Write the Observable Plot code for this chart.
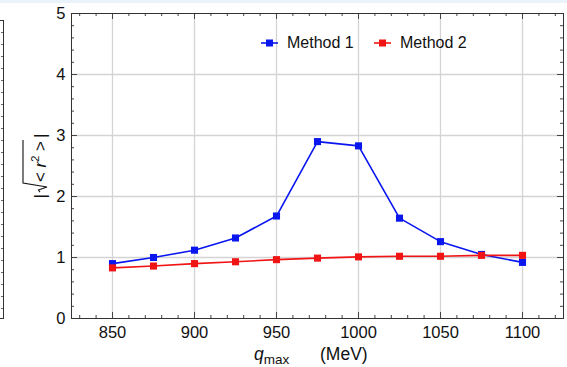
<!DOCTYPE html>
<html>
<head>
<meta charset="utf-8">
<script src="https://cdn.jsdelivr.net/npm/d3@7"></script>
<script src="https://cdn.jsdelivr.net/npm/@observablehq/plot@0.6"></script>
<style>
  html, body { margin: 0; padding: 0; background: #fff; }
  #wrap { position: relative; width: 567px; height: 367px; overflow: hidden; font-family: "Liberation Sans", Arial, sans-serif; }
  #topstrip { position: absolute; left: 0; top: 0; width: 567px; height: 3px; background: #eaf3fa; }
  #frag { position: absolute; left: -10px; top: 20px; width: 12px; height: 297px; border: 1px solid #333; }
  #fragticks { position: absolute; right: 0; top: 0; width: 2px; height: 297px;
     background: repeating-linear-gradient(to bottom, transparent 0 11px, #666 11px 12px); }
  #legend { position: absolute; top: 33px; left: 0; font-size: 16px; color: #111; }
  .item { position: absolute; top: 0; white-space: nowrap; display: flex; align-items: center; height: 20px; }
  .item svg { margin-right: 9px; }
</style>
</head>
<body>
<div id="wrap">
  <div id="topstrip"></div>
  <div id="frag"><div id="fragticks"></div></div>
</div>
<script>
// ---- data ----
const qmax = [850, 875, 900, 925, 950, 975, 1000, 1025, 1050, 1075, 1100];
const method1 = [0.90, 1.00, 1.12, 1.32, 1.68, 2.90, 2.83, 1.645, 1.26, 1.05, 0.92];
const method2 = [0.83, 0.86, 0.90, 0.93, 0.965, 0.99, 1.01, 1.02, 1.02, 1.035, 1.035];
const seriesNames = ["Method 1", "Method 2"];
const seriesColors = ["#0a16ee", "#f01414"];
const xTicks = [850, 900, 950, 1000, 1050, 1100];
const yTicks = [0, 1, 2, 3, 4, 5];
const xMinor = d3.range(830, 1121, 10);
const yMinor = d3.range(0, 5.001, 0.2).map(v => +v.toFixed(1));

const rows = [];
qmax.forEach((q, i) => rows.push({q, v: method1[i], s: seriesNames[0]}));
qmax.forEach((q, i) => rows.push({q, v: method2[i], s: seriesNames[1]}));

const W = 567, H = 367, mL = 71, mR = 4, mT = 13, mB = 49;
const innerW = W - mL - mR, innerH = H - mT - mB;
const minorLen = 3, majorLen = 6;
const tickColor = "#444";
const FONT = "'Liberation Sans', Arial, sans-serif";

const chart = Plot.plot({
  width: W, height: H,
  marginLeft: mL, marginRight: mR, marginTop: mT, marginBottom: mB,
  style: {fontFamily: FONT, background: "transparent", color: "#111"},
  x: {domain: [825, 1125]},
  y: {domain: [0, 5]},
  color: {domain: seriesNames, range: seriesColors},
  marks: [
    Plot.ruleX(xTicks, {x: d => d, stroke: "#d4d4d4", strokeWidth: 1.3}),
    Plot.ruleY(yTicks.slice(1, -1), {y: d => d, stroke: "#d4d4d4", strokeWidth: 1.3}),
    // minor ticks (inward) on all four sides
    Plot.tickX(xMinor, {x: d => d, insetTop: innerH - minorLen, stroke: tickColor}),
    Plot.tickX(xMinor, {x: d => d, insetBottom: innerH - minorLen, stroke: tickColor}),
    Plot.tickY(yMinor, {y: d => d, insetRight: innerW - minorLen, stroke: tickColor}),
    Plot.tickY(yMinor, {y: d => d, insetLeft: innerW - minorLen, stroke: tickColor}),
    // major ticks
    Plot.tickX(xTicks, {x: d => d, insetTop: innerH - majorLen, stroke: tickColor}),
    Plot.tickX(xTicks, {x: d => d, insetBottom: innerH - majorLen, stroke: tickColor}),
    Plot.tickY(yTicks, {y: d => d, insetRight: innerW - majorLen, stroke: tickColor}),
    Plot.tickY(yTicks, {y: d => d, insetLeft: innerW - majorLen, stroke: tickColor}),
    Plot.axisX(xTicks, {tickSize: 0, tickPadding: 8, fontSize: 16.5, label: null, tickFormat: d => String(d), fill: "#111"}),
    Plot.axisY(yTicks, {tickSize: 0, tickPadding: 6, fontSize: 16.5, label: null, tickFormat: d => String(d), fill: "#111"}),
    Plot.frame({stroke: "#333", strokeWidth: 1}),
    Plot.line(rows, {x: "q", y: "v", z: "s", stroke: "s", strokeWidth: 1.6}),
    Plot.dot(rows, {x: "q", y: "v", fill: "s", symbol: "square", r: 4})
  ]
});

const wrap = document.getElementById("wrap");
chart.style.position = "absolute";
chart.style.left = "0px";
chart.style.top = "0px";
wrap.appendChild(chart);
const svg = d3.select(chart);

// x-axis label: q_max (MeV)
const xl = svg.append("text")
  .attr("y", 360).attr("text-anchor", "start")
  .attr("font-size", 17.5).attr("fill", "#111").attr("font-family", FONT);
xl.append("tspan").attr("x", 254).attr("font-style", "italic").text("q");
xl.append("tspan").attr("font-size", 13.5).attr("dy", 4).text("max");
xl.append("tspan").attr("x", 320).attr("dy", -4).text("(MeV)");

// y-axis label: |sqrt(< r^2 >)|
const fs = 17;
const g = svg.append("g").attr("fill", "#111").attr("font-family", FONT)
  .attr("font-size", fs).attr("text-anchor", "start");
const inner = g.append("g");
const bar1 = inner.append("text").attr("x", 0).text("|");
const w1 = bar1.node().getComputedTextLength();
const radStart = w1 + 2;
const radEnd = radStart + 9;
const body = inner.append("text").attr("x", radEnd + 1);
body.append("tspan").text("< ");
body.append("tspan").attr("font-style", "italic").text("r");
body.append("tspan").attr("font-size", 11).attr("dy", -7).text("2");
body.append("tspan").attr("dy", 7).text(" >");
const w2 = body.node().getComputedTextLength();
const bodyEnd = radEnd + 1 + w2;
const bar2 = inner.append("text").attr("x", bodyEnd + 3).text("|");
const total = bodyEnd + 3 + bar2.node().getComputedTextLength();
const barY = -23;
inner.append("path")
  .attr("fill", "none").attr("stroke", "#111").attr("stroke-width", 1.1)
  .attr("d", `M${radStart},-6 L${radStart + 2},-7.5 L${radStart + 5},1 L${radEnd},${barY} L${bodyEnd + 1},${barY}`);
inner.attr("transform", `translate(${-total / 2},0)`);
g.attr("transform", `translate(46,166) rotate(-90)`);

// legend
const leg = document.createElement("div");
leg.id = "legend";
const legX = [261, 374];
seriesNames.forEach((name, i) => {
  const it = document.createElement("div");
  it.className = "item";
  it.style.left = legX[i] + "px";
  it.innerHTML = `<svg width="17" height="10"><line x1="0" y1="5" x2="17" y2="5" stroke="${seriesColors[i]}" stroke-width="1.6"/><rect x="5" y="1.5" width="7" height="7" fill="${seriesColors[i]}"/></svg><span>${name}</span>`;
  leg.appendChild(it);
});
wrap.appendChild(leg);
</script>
</body>
</html>
